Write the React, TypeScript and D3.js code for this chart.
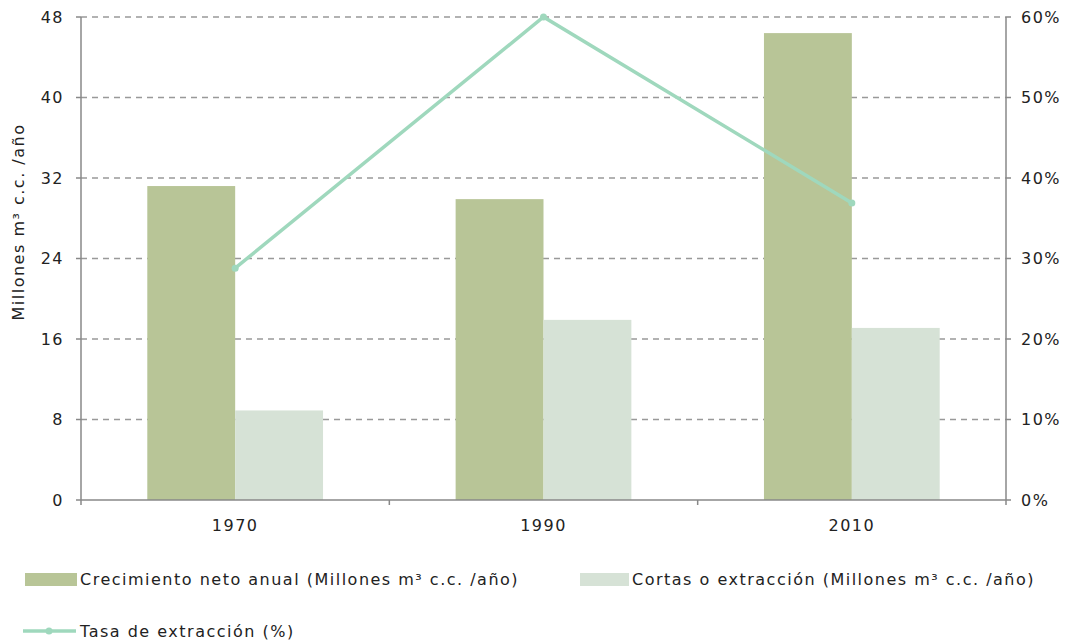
import * as d3 from 'd3';

const years = ['1970', '1990', '2010'];
const crecimiento = [31.2, 29.9, 46.4];
const cortas = [8.9, 17.9, 17.1];
const tasa = [0.288, 0.6, 0.369];
const leftTicks = [0, 8, 16, 24, 32, 40, 48];
const rightTicks = [0, 0.1, 0.2, 0.3, 0.4, 0.5, 0.6];

const width = 1071;
const height = 644;
const margin = { top: 17, right: 65, bottom: 144, left: 81 };
const font = 'DejaVu Sans, Verdana, sans-serif';
const colDark = '#b8c597';
const colLight = '#d6e2d6';
const colLine = '#9fd8bd';

export default function App() {
    const x0 = d3
        .scaleBand()
        .domain(years)
        .range([margin.left, width - margin.right])
        .paddingInner(0.43)
        .paddingOuter(0.215);
    const x1 = d3.scaleBand().domain(['a', 'b']).range([0, x0.bandwidth()]);
    const yL = d3.scaleLinear().domain([0, 48]).range([height - margin.bottom, margin.top]);
    const yR = d3.scaleLinear().domain([0, 0.6]).range([height - margin.bottom, margin.top]);
    const xL = margin.left;
    const xR = width - margin.right;
    const y0 = yL(0);
    const step = (xR - xL) / years.length;
    const center = (y: string) => (x0(y) as number) + x0.bandwidth() / 2;

    const line = d3
        .line<number>()
        .x((_, i) => center(years[i]))
        .y((d) => yR(d));

    const textStyle = { fontFamily: font, fontSize: 16, letterSpacing: 1.5, fill: '#222' };

    return (
        <svg width={width} height={height} style={{ position: 'absolute', left: 0, top: 0 }}>
            <rect width={width} height={height} fill='#fff' />
            {leftTicks.slice(1).map((t) => (
                <line key={t} x1={xL} x2={xR} y1={yL(t)} y2={yL(t)} stroke='#999' strokeWidth={1.5} strokeDasharray='6,5' />
            ))}
            {years.map((yr, i) => (
                <g key={yr}>
                    <rect x={(x0(yr) as number) + (x1('a') as number)} y={yL(crecimiento[i])} width={x1.bandwidth()} height={y0 - yL(crecimiento[i])} fill={colDark} />
                    <rect x={(x0(yr) as number) + (x1('b') as number)} y={yL(cortas[i])} width={x1.bandwidth()} height={y0 - yL(cortas[i])} fill={colLight} />
                    <text x={center(yr)} y={y0 + 31} textAnchor='middle' {...textStyle}>
                        {yr}
                    </text>
                </g>
            ))}
            {/* axes */}
            <line x1={xL} x2={xL} y1={margin.top} y2={y0} stroke='#888' strokeWidth={1.5} />
            <line x1={xR} x2={xR} y1={margin.top} y2={y0} stroke='#888' strokeWidth={1.5} />
            <line x1={xL} x2={xR} y1={y0} y2={y0} stroke='#888' strokeWidth={1.5} />
            {leftTicks.map((t) => (
                <g key={t}>
                    <line x1={xL - 5} x2={xL} y1={yL(t)} y2={yL(t)} stroke='#888' strokeWidth={1.5} />
                    <text x={xL - 17} y={yL(t)} dy='0.35em' textAnchor='end' {...textStyle}>
                        {t}
                    </text>
                </g>
            ))}
            {rightTicks.map((t) => (
                <g key={t}>
                    <line x1={xR} x2={xR + 5} y1={yR(t)} y2={yR(t)} stroke='#888' strokeWidth={1.5} />
                    <text x={xR + 15} y={yR(t)} dy='0.35em' textAnchor='start' {...textStyle}>
                        {d3.format('.0%')(t)}
                    </text>
                </g>
            ))}
            {d3.range(years.length + 1).map((i) => (
                <line key={i} x1={xL + i * step} x2={xL + i * step} y1={y0} y2={y0 + 5} stroke='#888' strokeWidth={1.5} />
            ))}
            <path d={line(tasa) as string} fill='none' stroke={colLine} strokeWidth={3.5} />
            {tasa.map((d, i) => (
                <circle key={i} cx={center(years[i])} cy={yR(d)} r={3.5} fill={colLine} />
            ))}
            <text transform={`translate(24, 222) rotate(-90)`} textAnchor='middle' {...textStyle}>
                Millones  m³ c.c. /año
            </text>
            {/* legend */}
            <rect x={25} y={573} width={52} height={13} fill={colDark} />
            <text x={80} y={585} {...textStyle}>
                Crecimiento neto anual (Millones m³ c.c. /año)
            </text>
            <rect x={580} y={573} width={49} height={13} fill={colLight} />
            <text x={632} y={585} {...textStyle}>
                Cortas o extracción (Millones m³ c.c. /año)
            </text>
            <line x1={23} x2={76} y1={631} y2={631} stroke={colLine} strokeWidth={3.5} />
            <circle cx={49} cy={631} r={3.5} fill={colLine} />
            <text x={80} y={637} {...textStyle}>
                Tasa de extracción (%)
            </text>
        </svg>
    );
}
